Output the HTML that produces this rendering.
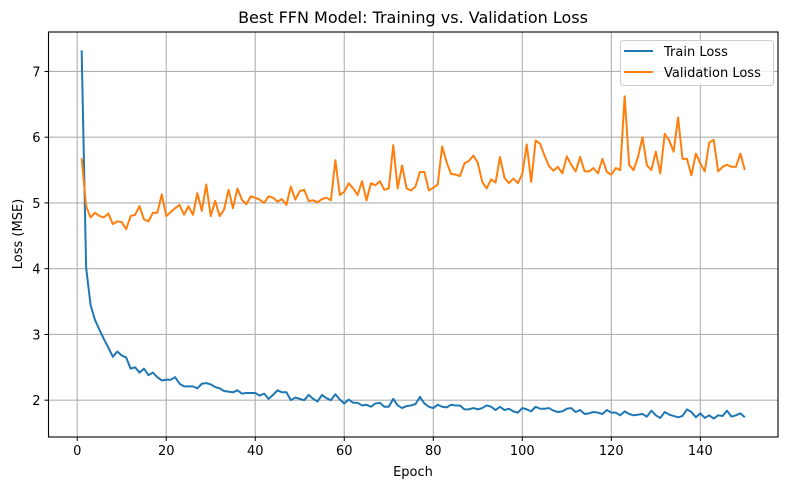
<!DOCTYPE html>
<html><head><meta charset="utf-8"><style>
body{margin:0;background:#fff;}
svg{display:block;font-family:"DejaVu Sans","Liberation Sans",sans-serif;}
</style></head><body>
<svg id="chart" width="790" height="490">
<rect width="790" height="490" fill="#fff"/>
<text x="413" y="23" text-anchor="middle" font-size="16" fill="#000">Best FFN Model: Training vs. Validation Loss</text>
<g id="grid"></g><g id="series"></g><g id="axes"></g>
<text x="413" y="476" text-anchor="middle" font-size="13">Epoch</text>
<text transform="translate(22,234) rotate(-90)" text-anchor="middle" font-size="13">Loss (MSE)</text>
<g>
<rect x="620.5" y="40.5" width="153" height="45" rx="3" fill="#fff" fill-opacity="0.8" stroke="#ccc"/>
<g><line x1="624" y1="51" x2="653" y2="51" stroke="#1f77b4" stroke-width="2"/><text x="664" y="56" font-size="13">Train Loss</text></g>
<g><line x1="624" y1="72" x2="653" y2="72" stroke="#ff7f0e" stroke-width="2"/><text x="664" y="77" font-size="13">Validation Loss</text></g>
</g>
</svg>
<script>
const xTicks=[0,20,40,60,80,100,120,140];
const yTicks=[2,3,4,5,6,7];
const trainLoss=[7.32,4.02,3.45,3.22,3.07,2.93,2.80,2.66,2.74,2.68,2.65,2.48,2.50,2.42,2.48,2.38,2.42,2.35,2.30,2.31,2.31,2.35,2.25,2.21,2.21,2.21,2.18,2.25,2.26,2.24,2.20,2.18,2.14,2.13,2.12,2.15,2.10,2.11,2.11,2.11,2.07,2.10,2.02,2.08,2.15,2.12,2.12,2.00,2.04,2.02,2.00,2.08,2.02,1.98,2.08,2.03,2.00,2.09,2.01,1.95,2.01,1.96,1.96,1.92,1.93,1.90,1.95,1.96,1.90,1.90,2.02,1.92,1.88,1.91,1.92,1.94,2.05,1.95,1.90,1.88,1.93,1.90,1.89,1.93,1.92,1.92,1.86,1.86,1.88,1.86,1.88,1.92,1.90,1.85,1.90,1.85,1.87,1.83,1.81,1.88,1.86,1.83,1.90,1.87,1.87,1.88,1.84,1.82,1.83,1.87,1.88,1.82,1.85,1.79,1.80,1.82,1.81,1.79,1.85,1.81,1.81,1.77,1.83,1.79,1.77,1.78,1.79,1.75,1.84,1.77,1.73,1.82,1.78,1.76,1.74,1.76,1.86,1.82,1.74,1.80,1.73,1.77,1.72,1.77,1.76,1.84,1.75,1.77,1.80,1.74];
const valLoss=[5.68,4.95,4.78,4.85,4.80,4.78,4.84,4.68,4.72,4.71,4.60,4.80,4.82,4.95,4.75,4.72,4.85,4.85,5.13,4.80,4.86,4.92,4.97,4.82,4.95,4.82,5.15,4.88,5.28,4.80,5.03,4.80,4.90,5.20,4.92,5.22,5.05,4.98,5.10,5.08,5.05,5.00,5.10,5.08,5.02,5.06,4.97,5.25,5.05,5.18,5.20,5.03,5.04,5.01,5.06,5.08,5.04,5.65,5.12,5.17,5.30,5.22,5.12,5.33,5.04,5.30,5.27,5.33,5.20,5.22,5.88,5.22,5.57,5.22,5.19,5.25,5.47,5.47,5.19,5.23,5.28,5.86,5.62,5.44,5.43,5.41,5.60,5.64,5.72,5.61,5.32,5.22,5.36,5.31,5.70,5.38,5.30,5.37,5.30,5.44,5.89,5.32,5.95,5.90,5.72,5.56,5.49,5.55,5.45,5.71,5.58,5.48,5.70,5.48,5.48,5.53,5.45,5.67,5.47,5.43,5.53,5.50,6.62,5.58,5.50,5.70,6.00,5.57,5.50,5.78,5.45,6.05,5.95,5.78,6.30,5.67,5.67,5.42,5.75,5.60,5.48,5.92,5.96,5.48,5.55,5.58,5.55,5.55,5.75,5.50];
const L=48.5,R=778,T=32,B=437;
const X0=-6.45,X1=157.45,Y0=1.44,Y1=7.60;
function sx(v){return L+(v-X0)/(X1-X0)*(R-L);}
function sy(v){return B-(v-Y0)/(Y1-Y0)*(B-T);}
const NS='http://www.w3.org/2000/svg';
function mk(t,a,p){const e=document.createElementNS(NS,t);for(const k in a)e.setAttribute(k,a[k]);p.appendChild(e);return e;}
const grid=document.getElementById('grid'),axes=document.getElementById('axes'),ser=document.getElementById('series');
xTicks.forEach(t=>{const x=sx(t);
 const g=mk('line',{x1:x,x2:x,y1:T,y2:B,stroke:'#b0b0b0','stroke-width':1.1},grid);
 
 
 mk('line',{x1:x,x2:x,y1:B,y2:B+4,stroke:'#000','stroke-width':1},axes);
 const tx=mk('text',{x:x,y:B+18,'text-anchor':'middle','font-size':13},axes);tx.textContent=t;
 
 
});
yTicks.forEach(t=>{const y=sy(t);
 const g=mk('line',{x1:L,x2:R,y1:y,y2:y,stroke:'#b0b0b0','stroke-width':1.1},grid);
 
 
 mk('line',{x1:L-4,x2:L,y1:y,y2:y,stroke:'#000','stroke-width':1},axes);
 const tx=mk('text',{x:L-8,y:y+5,'text-anchor':'end','font-size':13},axes);tx.textContent=t;
 
 
});
const fr=mk('rect',{x:L,y:T,width:R-L,height:B-T,fill:'none',stroke:'#000','stroke-width':1.1},axes);


function line(arr,c,name){const p=mk('polyline',{points:arr.map((v,i)=>sx(i+1)+','+sy(v)).join(' '),fill:'none',stroke:c,'stroke-width':2,'stroke-linejoin':'round'},ser);
 
 }
line(trainLoss,'#1f77b4','train-loss-line');
line(valLoss,'#ff7f0e','validation-loss-line');
</script>
</body></html>
